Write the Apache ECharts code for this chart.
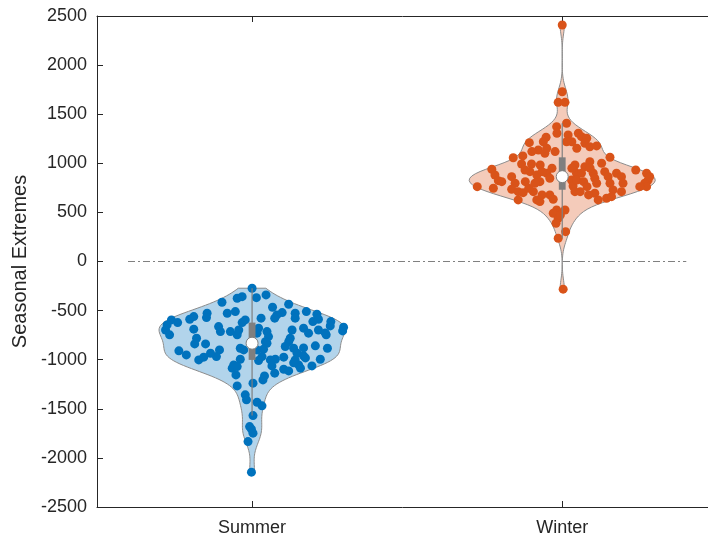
<!DOCTYPE html>
<html>
<head>
<meta charset="utf-8">
<script src="https://cdn.jsdelivr.net/npm/echarts@6/dist/echarts.min.js"></script>
<style>
html,body{margin:0;padding:0;background:#fff;}
#chart{width:708px;height:539px;}
</style>
</head>
<body>
<div id="chart"></div>
<script>
// ---- data ----
const categories = ['Summer', 'Winter'];
const yAxisName = 'Seasonal Extremes';
const yMin = -2500, yMax = 2500, yStep = 500;
const zeroLineX = [0.6, 2.4];
const zeroLineY = 0;

const summerValues = [
  -272, -340, -368, -358, -374, -415, -435, -466, -527, -510,
  -520, -544, -527, -510, -537, -527, -571, -561, -588, -595,
  -622, -646, -595, -622, -577, -577, -577, -612, -588, -612,
  -656, -669, -707, -697, -747, -689, -781, -839, -663, -714,
  -714, -747, -697, -714, -765, -816, -832, -679, -730, -697,
  -781, -816, -679, -730, -697, -747, -839, -900, -968, -934,
  -1002, -974, -910, -951, -883, -900, -900, -893, -968, -1009,
  -1002, -995, -974, -866, -883, -934, -961, -1002, -859, -883,
  -995, -1063, -995, -1053, -1086, -1070, -1063, -1137, -1097, -1114,
  -1053, -1086, -1155, -1165, -1206, -1239, -1267, -1358, -1409, -1433,
  -1470, -1569, -1681, -1707, -1748, -1834, -2145, -727, -880, -1032,
  -982
];
const summerJitter = [
  0.000, 0.045, 0.014, -0.032, -0.048, -0.097, 0.118, 0.066, -0.080, -0.054,
  0.097, 0.080, 0.139, 0.175, 0.209, -0.145, -0.147, -0.188, -0.201, -0.260,
  -0.240, -0.274, -0.022, -0.032, 0.029, 0.073, 0.139, 0.196, 0.214, 0.254,
  0.252, 0.295, 0.292, -0.279, -0.266, -0.188, -0.179, -0.185, -0.108, -0.102,
  -0.070, -0.048, -0.043, 0.048, 0.053, 0.043, 0.048, 0.021, 0.016, 0.129,
  0.123, 0.118, 0.166, 0.182, 0.214, 0.239, -0.150, -0.105, -0.115, -0.134,
  -0.172, -0.156, -0.236, -0.212, -0.038, -0.027, 0.016, 0.037, 0.032, 0.021,
  0.059, 0.075, 0.102, 0.107, 0.134, 0.145, 0.166, 0.139, 0.204, 0.243,
  0.220, 0.193, -0.038, -0.059, -0.064, -0.048, 0.064, 0.073, 0.102, 0.118,
  0.150, 0.156, -0.052, 0.040, 0.035, 0.003, -0.048, -0.022, -0.018, 0.016,
  0.032, 0.003, -0.008, -0.002, 0.003, -0.013, -0.002, 0.236, 0.166, 0.134,
  0.172
];

const winterValues = [
  2408, 1729, 1621, 1621, 1373, 1408, 1289, 1220, 1306, 1271,
  1255, 1204, 1169, 1177, 1265, 1220, 1210, 1136, 1102, 1153,
  1075, 1057, 983, 966, 1017, 1000, 1062, 939, 881, 823,
  762, 746, 813, 864, 797, 736, 711, 701, 993, 993,
  915, 932, 881, 813, 797, 899, 848, 627, 711, 627,
  610, 678, 634, 830, 769, 711, 711, 899, 899, 899,
  848, 797, 915, 864, 797, 729, 899, 864, 797, 932,
  899, 830, 797, 762, 695, 627, 644, 660, 525, 491,
  441, 390, 525, 304, 237, -282, 1306, 1119, 1119, 1220,
  1153, 983, 915, 950, 813, 746, 950, 830, 813, 762,
  678, 678, 474, 950, 762, 864, 711
];
const winterJitter = [
  0.000, 0.000, -0.013, 0.009, -0.018, 0.014, 0.019, 0.014, 0.052, 0.062,
  0.079, 0.073, 0.089, 0.111, -0.052, -0.061, -0.106, -0.077, -0.056, -0.050,
  -0.127, -0.158, 0.041, 0.073, 0.089, 0.127, 0.154, -0.227, -0.217, -0.206,
  -0.274, -0.222, -0.195, -0.163, -0.152, -0.163, -0.142, -0.126, -0.131, -0.099,
  -0.104, -0.120, -0.082, -0.072, -0.088, -0.050, -0.040, -0.142, -0.093, -0.082,
  -0.072, -0.040, -0.029, 0.030, 0.035, 0.041, 0.058, 0.046, 0.062, 0.100,
  0.105, 0.111, 0.137, 0.148, 0.154, 0.164, 0.175, 0.191, 0.196, 0.237,
  0.272, 0.277, 0.266, 0.272, 0.105, 0.116, 0.143, 0.159, -0.018, -0.029,
  -0.013, -0.020, 0.009, 0.011, -0.013, 0.003, -0.017, -0.098, -0.023, 0.031,
  0.047, -0.071, -0.065, -0.033, -0.119, -0.108, 0.031, 0.047, 0.069, 0.080,
  0.085, -0.065, -0.006, 0.090, 0.250, 0.282, 0.191
];

// ---- style ----
const pointColors = ['#0072BD', '#D95319'];
const violinFills = ['rgba(0,114,189,0.3)', 'rgba(217,83,25,0.3)'];
const edgeGray = '#8c8c8c';
const boxGray = '#7f7f7f';
const axisColor = '#262626';
const violinHalfWidth = 0.3;
const boxHalfWidth = 0.011;
const fontFam = 'Liberation Sans, Arial, sans-serif';

// ---- statistics (MATLAB-style) ----
function quantile(sorted, p) {
  const n = sorted.length;
  const pos = n * p - 0.5;
  if (pos <= 0) return sorted[0];
  if (pos >= n - 1) return sorted[n - 1];
  const i = Math.floor(pos), f = pos - i;
  return sorted[i] + f * (sorted[i + 1] - sorted[i]);
}
function median(a) { const s = a.slice().sort((x, y) => x - y); return quantile(s, 0.5); }
function stats(values) {
  const s = values.slice().sort((a, b) => a - b);
  const q1 = quantile(s, 0.25), q2 = quantile(s, 0.5), q3 = quantile(s, 0.75);
  const iqr = q3 - q1;
  let lo = q1 - 1.5 * iqr, hi = q3 + 1.5 * iqr;
  lo = Math.max(lo, Math.min(...s.filter(v => v > lo)));
  hi = Math.min(hi, Math.max(...s.filter(v => v < hi)));
  const n = s.length;
  const med = median(s);
  const mad = median(s.map(v => Math.abs(v - med)));
  const sig = mad / 0.6745;
  const bw = sig * Math.pow(4 / (3 * n), 0.2);
  const mn = s[0], mx = s[n - 1];
  const pts = [];
  const N = 120;
  let maxD = 0;
  for (let k = 0; k < N; k++) {
    const y = mn + (mx - mn) * k / (N - 1);
    let d = 0;
    for (const v of s) { const u = (y - v) / bw; d += Math.exp(-0.5 * u * u); }
    d /= (n * bw * Math.sqrt(2 * Math.PI));
    pts.push([y, d]);
    if (d > maxD) maxD = d;
  }
  return { q1, q2, q3, lo, hi, kde: pts.map(p => [p[0], p[1] / maxD * violinHalfWidth]) };
}
const allValues = [summerValues, winterValues];
const allJitter = [summerJitter, winterJitter];
const st = allValues.map(stats);

const violinData = categories.map((c, i) => [i + 1, i]);

const scatterSeries = categories.map((c, i) => ({
  type: 'scatter',
  name: c,
  data: allValues[i].map((v, k) => [i + 1 + allJitter[i][k], v]),
  symbolSize: 9,
  itemStyle: { color: pointColors[i], opacity: 1 },
  z: 3,
  silent: true
}));

const xMin = 0.5, xMax = 2.47;

const option = {
  animation: false,
  backgroundColor: '#ffffff',
  grid: { left: 97, top: 16, right: 0, bottom: 32, containLabel: false },
  xAxis: [{
    type: 'value', min: xMin, max: xMax, position: 'bottom',
    axisLine: { show: true, onZero: false, lineStyle: { color: axisColor, width: 1 } },
    axisTick: { show: true, inside: true, length: 6, customValues: [1, 2], lineStyle: { color: axisColor } },
    axisLabel: {
      show: true, customValues: [1, 2], margin: 12,
      formatter: v => categories[Math.round(v) - 1] || '',
      color: axisColor, fontSize: 18, fontFamily: fontFam
    },
    splitLine: { show: false }
  }, {
    type: 'value', min: xMin, max: xMax, position: 'top',
    axisLine: { show: true, onZero: false, lineStyle: { color: axisColor, width: 1 } },
    axisTick: { show: true, inside: true, length: 6, customValues: [1, 2], lineStyle: { color: axisColor } },
    axisLabel: { show: false },
    splitLine: { show: false }
  }],
  yAxis: {
    type: 'value', min: yMin, max: yMax, interval: yStep,
    name: yAxisName, nameLocation: 'middle', nameGap: 56, nameRotate: 90,
    nameTextStyle: { color: axisColor, fontSize: 20, fontFamily: fontFam },
    axisLine: { show: true, onZero: false, lineStyle: { color: axisColor, width: 1 } },
    axisTick: { show: true, inside: true, length: 6, lineStyle: { color: axisColor } },
    axisLabel: { color: axisColor, fontSize: 18, margin: 10, fontFamily: fontFam, formatter: v => String(v) },
    splitLine: { show: false }
  },
  series: [
    {
      type: 'line',
      data: zeroLineX.map(x => [x, zeroLineY]),
      symbol: 'none',
      lineStyle: { color: '#808080', width: 1, type: [7, 3, 2, 3] },
      z: 1, silent: true
    },
    {
      type: 'custom',
      data: violinData,
      z: 2, silent: true,
      renderItem: function (params, api) {
        const pos = api.value(0);
        const i = api.value(1);
        const kde = st[i].kde;
        const pts = [];
        for (const [y, w] of kde) pts.push(api.coord([pos + w, y]));
        for (let k = kde.length - 1; k >= 0; k--) pts.push(api.coord([pos - kde[k][1], kde[k][0]]));
        return {
          type: 'polygon',
          shape: { points: pts },
          style: { fill: violinFills[i], stroke: edgeGray, lineWidth: 1 }
        };
      }
    },
    ...scatterSeries,
    {
      type: 'custom',
      data: violinData,
      z: 4, silent: true,
      renderItem: function (params, api) {
        const pos = api.value(0);
        const i = api.value(1);
        const s = st[i];
        const wTop = api.coord([pos, s.hi]);
        const wBot = api.coord([pos, s.lo]);
        const bl = api.coord([pos - boxHalfWidth, s.q3]);
        const br = api.coord([pos + boxHalfWidth, s.q1]);
        const m = api.coord([pos, s.q2]);
        return {
          type: 'group',
          children: [
            { type: 'line', shape: { x1: wTop[0], y1: wTop[1], x2: wBot[0], y2: wBot[1] },
              style: { stroke: boxGray, lineWidth: 1.2 } },
            { type: 'rect', shape: { x: bl[0], y: bl[1], width: br[0] - bl[0], height: br[1] - bl[1] },
              style: { fill: boxGray } },
            { type: 'circle', shape: { cx: m[0], cy: m[1], r: 6 },
              style: { fill: '#ffffff', stroke: boxGray, lineWidth: 1 } }
          ]
        };
      }
    }
  ]
};

const chart = echarts.init(document.getElementById('chart'), null, { renderer: 'canvas' });
chart.setOption(option);
</script>
</body>
</html>
